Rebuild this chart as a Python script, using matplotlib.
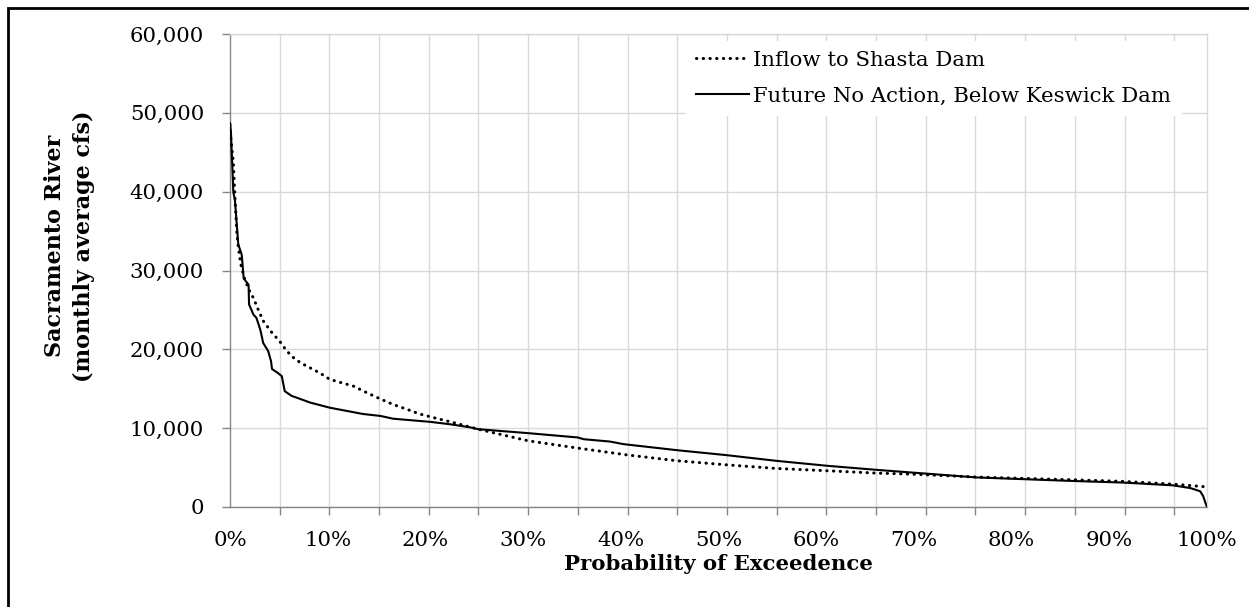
import matplotlib
matplotlib.use("Agg")
import matplotlib.pyplot as plt
from matplotlib.ticker import FuncFormatter, FixedLocator
from matplotlib.patches import Rectangle

# ---- data ----
inflow_pct = [0.0, 0.1, 0.34, 0.5, 0.7, 0.85, 1.1, 1.5, 2.0, 2.4, 2.9, 3.4, 4.3, 5.1,
              5.8, 6.7, 7.8, 9.2, 10.2, 11.3, 12.6, 14.0, 15.4, 16.7, 18.1, 19.4,
              20.8, 22.9, 25.4, 30.5, 35.6, 40.8, 45.8, 50.8, 55.9, 61.1, 66.1,
              69.6, 76.4, 86.3, 91.4, 96.5, 100.0]
inflow_cfs = [48500, 46500, 43800, 39400, 34800, 33000, 30800, 28900, 27400, 26500,
              25000, 23600, 22100, 21000, 19800, 18700, 17900, 17000, 16200, 15800,
              15350, 14500, 13700, 13000, 12400, 11800, 11350, 10700, 9870, 8400,
              7470, 6580, 5860, 5350, 4890, 4600, 4300, 4180, 3800, 3450, 3250,
              2900, 2550]

keswick_pct = [0.0, 0.1, 0.34, 0.5, 0.85, 1.2, 1.4, 1.9, 1.95, 2.4, 2.7, 3.1, 3.4,
               3.9, 4.2, 4.3, 4.9, 5.3, 5.6, 6.3, 7.2, 8.2, 10.2, 11.9, 13.6, 15.4,
               16.7, 20.5, 22.5, 24.6, 25.4, 30.5, 35.6, 36.2, 38.9, 40.3, 45.8,
               50.8, 55.9, 61.1, 66.1, 69.6, 76.4, 86.3, 91.4, 96.5, 98.3, 99.3,
               99.6, 99.85, 100.0]
keswick_cfs = [48700, 47500, 39900, 39000, 33300, 32000, 29000, 28200, 25700, 24400,
               24000, 22500, 20800, 19800, 18500, 17500, 17000, 16600, 14700, 14100,
               13700, 13250, 12600, 12200, 11800, 11550, 11200, 10800, 10500, 10100,
               9870, 9370, 8820, 8600, 8300, 7970, 7200, 6580, 5860, 5230, 4720,
               4390, 3750, 3300, 3100, 2750, 2400, 2000, 1400, 500, 0]

x_labels = ["0%", "10%", "20%", "30%", "40%", "50%", "60%", "70%", "80%", "90%", "100%"]
y_ticks = [0, 10000, 20000, 30000, 40000, 50000, 60000]

series_names = ["Inflow to Shasta Dam", "Future No Action, Below Keswick Dam"]
x_title = "Probability of Exceedence"
y_title = "Sacramento River\n(monthly average cfs)"

# ---- figure ----
plt.rcParams['font.family'] = ['DejaVu Serif']
FS = 15.3
W, H = 1249, 607
fig = plt.figure(figsize=(W / 100, H / 100), dpi=100)
ax = fig.add_axes([230 / W, 1 - 507 / H, (1207 - 230) / W, (507 - 34) / H])

grid_c = "#d9d9d9"
axis_c = "#868686"

ax.plot(inflow_pct, inflow_cfs, color="black", lw=2.2,
        linestyle=(0, (0.1, 2.1)), dash_capstyle="round",
        label=series_names[0], zorder=3)
ax.plot(keswick_pct, keswick_cfs, color="black", lw=1.5,
        label=series_names[1], zorder=4)

ax.set_xlim(0, 100)
ax.set_ylim(0, 60000)

# y axis
ax.set_yticks(y_ticks)
ax.yaxis.set_major_formatter(FuncFormatter(lambda v, p: f"{int(v):,}"))
ax.tick_params(axis="y", direction="out", length=6, width=1, color=axis_c,
               labelsize=FS, pad=12.7)
ax.yaxis.grid(True, color=grid_c, lw=1)

# x axis: labels every 10%, tick marks / gridlines every 50 of 983 categories
ax.set_xticks([i * 10 for i in range(len(x_labels))])
ax.set_xticklabels(x_labels)
minor_pos = [k * 50 / 983 * 100 for k in range(20)]
ax.xaxis.set_minor_locator(FixedLocator(minor_pos))
ax.tick_params(axis="x", which="major", length=0, labelsize=FS, pad=17)
ax.tick_params(axis="x", which="minor", direction="out", length=5.5, width=1,
               color=axis_c)
ax.xaxis.grid(True, which="minor", color=grid_c, lw=1)
ax.xaxis.grid(False, which="major")
ax.set_axisbelow(True)

for s in ["left", "bottom"]:
    ax.spines[s].set_color(axis_c)
    ax.spines[s].set_linewidth(1)
for s in ["top", "right"]:
    ax.spines[s].set_color(grid_c)
    ax.spines[s].set_linewidth(1)

ax.set_xlabel(x_title, fontsize=FS, fontweight="bold", labelpad=3)
ax.set_ylabel(y_title, fontsize=16, fontweight="bold", linespacing=1.4)
ax.yaxis.set_label_coords(-0.138, 0.552)

leg = ax.legend(loc="upper left", bbox_to_anchor=(0.467, 0.985), frameon=True,
                fontsize=FS, handlelength=2.5, handletextpad=0.2,
                labelspacing=0.81, borderaxespad=0.0, borderpad=0.45)
leg.get_frame().set_edgecolor("white")
leg.get_frame().set_facecolor("white")
leg.get_frame().set_alpha(1)
leg.get_frame().set_boxstyle("square", pad=0)

# figure border (left and top visible)
fig.patches.append(Rectangle((8 / W, -0.2), 1.2, 1 - 8 / H + 0.2,
                             transform=fig.transFigure, fill=False,
                             edgecolor="black", lw=2))

fig.savefig("out.png", dpi=100)
